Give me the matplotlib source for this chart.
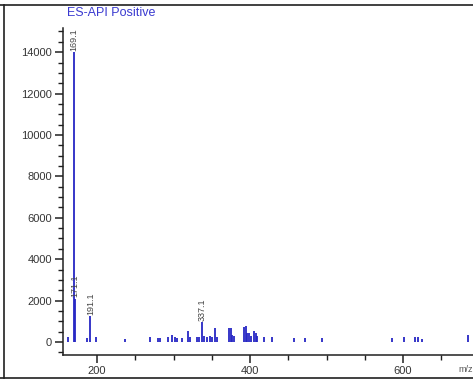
import matplotlib
matplotlib.use("Agg")
import matplotlib.pyplot as plt
from matplotlib.lines import Line2D
from matplotlib.ticker import MultipleLocator

plt.rcParams['font.family'] = ['Liberation Sans', 'DejaVu Sans']

# spectrum (m/z, intensity)
mz = [162.2, 169.1, 171.1, 186.2, 191.1, 198.3, 236.1, 268.7, 279.5, 281.7,
      292.5, 297.3, 301.2, 303.8, 310.4, 318.2, 320.8, 331.2, 333.8, 337.1,
      340.3, 344.2, 348.1, 350.8, 354.7, 357.3, 372.9, 375.5, 376.8, 379.4,
      392.4, 394.7, 396.4, 399.0, 401.6, 405.5, 408.1, 409.4, 418.5, 429.3,
      457.6, 471.9, 494.5, 585.7, 600.9, 616.2, 619.6, 624.8, 685.6]
intensity = [250, 14000, 2100, 180, 1250, 250, 130, 250, 180, 180,
             220, 350, 250, 180, 180, 530, 250, 250, 250, 950,
             300, 250, 300, 250, 680, 250, 680, 680, 350, 300,
             740, 750, 450, 450, 300, 550, 450, 300, 250, 250,
             180, 180, 180, 180, 230, 250, 250, 150, 350]

# annotated peaks
peak_labels = ["169.1", "171.1", "191.1", "337.1"]
peak_mz = [169.1, 171.1, 191.1, 337.1]
peak_int = [14000, 2100, 1250, 950]

W, H = 473, 379
fig = plt.figure(figsize=(W / 100, H / 100), dpi=100)
fig.patch.set_facecolor("white")

ax = fig.add_axes([63 / W, (H - 355) / H, (W - 63) / W, (355 - 28) / H])
ax.vlines(mz, 0, intensity, colors="#2626c4", lw=1.3)

for lab, x, y in zip(peak_labels, peak_mz, peak_int):
    ax.annotate(lab, (x, y), xytext=(0, 1), textcoords="offset points",
                rotation=90, ha="center", va="bottom", fontsize=6.5,
                color="#454545")

ax.set_xlim(155.3, 691.6)
ax.set_ylim(-628, 15169)
ax.xaxis.set_major_locator(MultipleLocator(200))
ax.xaxis.set_minor_locator(MultipleLocator(50))
ax.yaxis.set_major_locator(MultipleLocator(2000))
ax.yaxis.set_minor_locator(MultipleLocator(500))

for s in ["top", "right"]:
    ax.spines[s].set_visible(False)
for s in ["left", "bottom"]:
    ax.spines[s].set_linewidth(1.1)
    ax.spines[s].set_color("#202020")

ax.tick_params(which="major", length=6, width=1.1, color="#202020",
               labelsize=8, labelcolor="#353535", pad=2)
ax.tick_params(which="minor", length=3.5, width=1.0, color="#202020")

fig.text(67 / W, 1 - 13 / H, "ES-API Positive", fontsize=9,
         color="#3a3ad0", ha="left", va="center")
fig.text(458 / W, 1 - 370 / H, "m/z", fontsize=6.5, color="#555555",
         ha="left", va="center")

# outer frame pieces
fig.add_artist(Line2D([0, 1], [1 - 4.5 / H, 1 - 4.5 / H], color="#202020", lw=1.2))
fig.add_artist(Line2D([3.5 / W, 3.5 / W], [1 - 4.5 / H, 1 - 377.5 / H], color="#202020", lw=1.2))
fig.add_artist(Line2D([0, 1], [1 - 377.5 / H, 1 - 377.5 / H], color="#202020", lw=1.2))

fig.savefig("out.png", dpi=100)
